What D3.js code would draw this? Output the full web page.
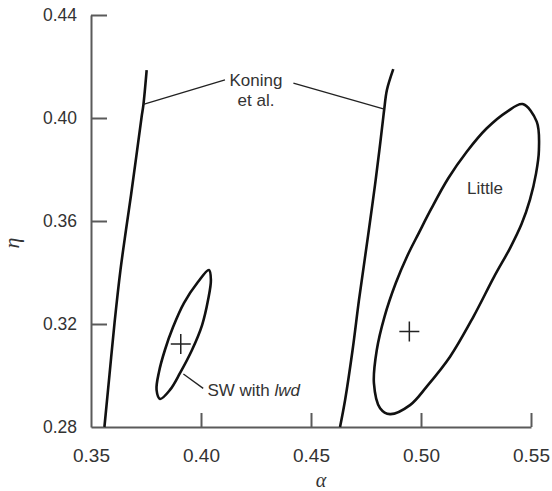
<!DOCTYPE html>
<html><head><meta charset="utf-8">
<script src="https://cdn.jsdelivr.net/npm/d3@7"></script>
<style>
html,body{margin:0;padding:0;background:#fff;}
svg{display:block;font-family:"Liberation Sans",Arial,sans-serif;}
</style></head>
<body>
<svg id="chart" width="552" height="491"></svg>
<script>
// ---- data (alpha, eta) ----
const xTicks = [0.35, 0.40, 0.45, 0.50, 0.55];
const yTicks = [0.28, 0.32, 0.36, 0.40, 0.44];

const koningLeft = [
  [0.3561,0.2800],[0.3584,0.3002],[0.3607,0.3204],[0.3634,0.3410],[0.3659,0.3565],
  [0.3682,0.3701],[0.3705,0.3845],[0.3730,0.4004],[0.3738,0.4050],[0.3753,0.4186]
];
const koningRight = [
  [0.4632,0.2800],[0.4655,0.2905],[0.4689,0.3099],[0.4718,0.3293],[0.4745,0.3456],
  [0.4768,0.3596],[0.4791,0.3740],[0.4811,0.3876],[0.4827,0.3992],[0.4833,0.4035],
  [0.4845,0.4109],[0.4874,0.4190]
];
const littleContour = [
  [0.5462,0.4054],[0.5526,0.3986],[0.5536,0.3876],[0.5523,0.3785],[0.5495,0.3682],
  [0.5457,0.3588],[0.5405,0.3495],[0.5332,0.3383],[0.5238,0.3228],[0.5132,0.3073],
  [0.5026,0.2957],[0.4950,0.2885],[0.4859,0.2850],[0.4814,0.2873],[0.4786,0.2970],
  [0.4799,0.3099],[0.4834,0.3228],[0.4885,0.3358],[0.4938,0.3465],[0.4991,0.3555],
  [0.5045,0.3645],[0.5124,0.3766],[0.5208,0.3869],[0.5299,0.3960],[0.5390,0.4024]
];
const swContour = [
  [0.4036,0.3410],[0.4045,0.3371],[0.4032,0.3293],[0.4005,0.3196],[0.3959,0.3099],
  [0.3905,0.3010],[0.3859,0.2944],[0.3814,0.2909],[0.3798,0.2944],[0.3809,0.3014],
  [0.3836,0.3099],[0.3873,0.3188],[0.3923,0.3282],[0.3986,0.3363]
];
const estimates = [[0.3908,0.3122],[0.4947,0.3171]];

const leaderLines = [
  [[0.3738,0.4053],[0.4109,0.4148]],
  [[0.4420,0.4135],[0.4833,0.4034]],
  [[0.3920,0.3006],[0.4010,0.2950]]
];

// ---- layout ----
const svg = d3.select("#chart");
const x = d3.scaleLinear().domain([0.35, 0.55]).range([91, 531]);
const y = d3.scaleLinear().domain([0.28, 0.44]).range([427, 15]);
const axisColor = "#5a5a5a", textColor = "#333";

// x axis
const gx = svg.append("g").attr("transform", "translate(0,427)")
  .call(d3.axisBottom(x).tickValues(xTicks).tickFormat(d3.format(".2f"))
    .tickSizeInner(-14).tickSizeOuter(0).tickPadding(22));
gx.select(".domain").attr("stroke", axisColor).attr("stroke-width", 2);
gx.selectAll(".tick line").attr("stroke", axisColor).attr("stroke-width", 2)
  .filter(d => d === 0.35).remove();
gx.selectAll(".tick text").attr("fill", textColor).attr("font-size", 19)
  .attr("font-family", "Liberation Sans, Arial, sans-serif");

// y axis
const gy = svg.append("g").attr("transform", "translate(91,0)")
  .call(d3.axisLeft(y).tickValues(yTicks).tickFormat(d3.format(".2f"))
    .tickSizeInner(-16).tickSizeOuter(0).tickPadding(14));
gy.select(".domain").attr("stroke", axisColor).attr("stroke-width", 2);
gy.selectAll(".tick line").attr("stroke", axisColor).attr("stroke-width", 2)
  .filter(d => d === 0.28).remove();
gy.selectAll(".tick text").attr("fill", textColor).attr("font-size", 17.5)
  .attr("font-family", "Liberation Sans, Arial, sans-serif");

// axis titles
svg.append("text").attr("x", 321).attr("y", 487).attr("text-anchor", "middle")
  .attr("font-family", "Liberation Serif, serif").attr("font-style", "italic")
  .attr("font-size", 20).attr("fill", textColor).text("α");
svg.append("text").attr("transform", "translate(19,243) rotate(-90)")
  .attr("text-anchor", "middle")
  .attr("font-family", "Liberation Serif, serif").attr("font-style", "italic")
  .attr("font-size", 22).attr("fill", textColor).text("η");

// curves
const open = d3.line().x(d => x(d[0])).y(d => y(d[1])).curve(d3.curveCatmullRom);
const closed = d3.line().x(d => x(d[0])).y(d => y(d[1])).curve(d3.curveCatmullRomClosed);
const curveStyle = sel => sel.attr("fill", "none").attr("stroke", "#111")
  .attr("stroke-width", 2.6).attr("stroke-linejoin", "round");

svg.append("path").attr("d", open(koningLeft)).call(curveStyle);
svg.append("path").attr("d", open(koningRight)).call(curveStyle);
svg.append("path").attr("d", closed(littleContour)).call(curveStyle);
svg.append("path").attr("d", closed(swContour)).call(curveStyle);

// estimate crosses
estimates.forEach(e => {
  const cx = x(e[0]), cy = y(e[1]);
  svg.append("path")
    .attr("d", `M${cx-10},${cy}H${cx+10}M${cx},${cy-10}V${cy+10}`)
    .attr("stroke", "#222").attr("stroke-width", 1.5).attr("fill", "none");
});

// leader lines
leaderLines.forEach(l => {
  svg.append("line").attr("x1", x(l[0][0])).attr("y1", y(l[0][1]))
    .attr("x2", x(l[1][0])).attr("y2", y(l[1][1]))
    .attr("stroke", "#222").attr("stroke-width", 1.3);
});

// labels
const lbl = (ax, ay, anchor) => svg.append("text").attr("x", x(ax)).attr("y", y(ay))
  .attr("text-anchor", anchor).attr("font-size", 17).attr("fill", textColor);
lbl(0.425, 0.4124, "middle").text("Koning");
lbl(0.425, 0.4047, "middle").text("et al.");
lbl(0.5291, 0.3705, "middle").text("Little");
const sw = lbl(0.4029, 0.2920, "start");
sw.append("tspan").text("SW with ");
sw.append("tspan").attr("font-style", "italic").text("lwd");
</script>
</body></html>
